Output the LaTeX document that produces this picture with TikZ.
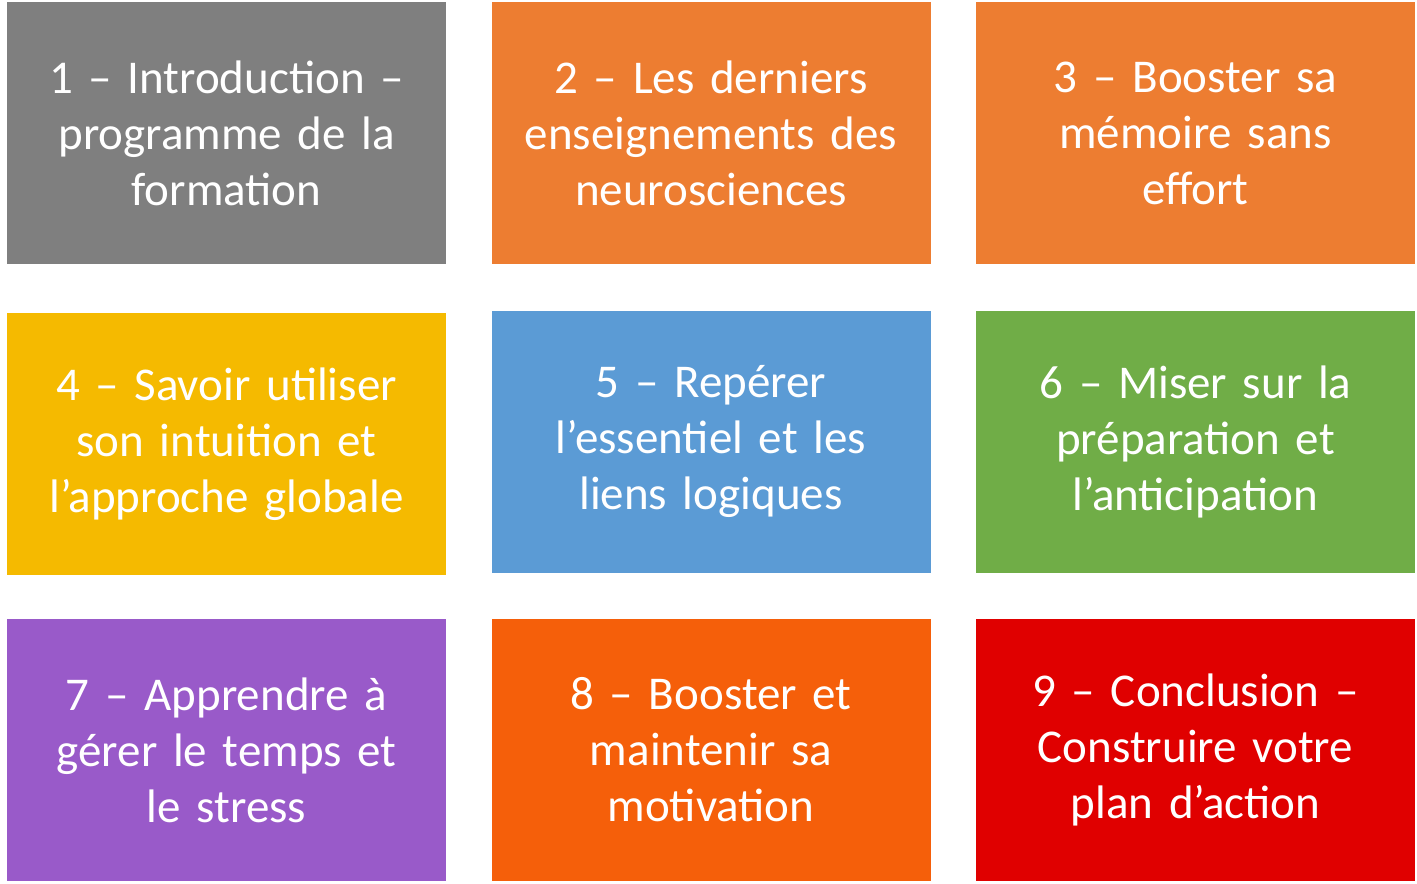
\documentclass[tikz,border=0pt]{standalone}
\usepackage{fontspec}
\setmainfont{Carlito}
\definecolor{cgray}{HTML}{7F7F7F}
\definecolor{corange}{HTML}{ED7D31}
\definecolor{cyellow}{HTML}{F5BA00}
\definecolor{cblue}{HTML}{5B9BD5}
\definecolor{cgreen}{HTML}{70AD47}
\definecolor{cpurple}{HTML}{995AC9}
\definecolor{cdeeporange}{HTML}{F55F0A}
\definecolor{cred}{HTML}{E00000}
\begin{document}
\begin{tikzpicture}[x=0.5pt, y=-0.5pt,
	tile/.style={minimum width=219.5pt, minimum height=131pt, inner sep=0pt, text=white, text width=215pt, align=center, font=\fontsize{23.5}{28}\selectfont}]
			\useasboundingbox (0,0) rectangle (1417,883);
			\node[tile, fill=cgray] (t1) at (226.5,133) {1 – Introduction –\\programme de la\\formation};
			\node[tile, fill=corange] (t2) at (711,133) {2 – Les derniers\\enseignements des\\neurosciences};
			\node[tile, fill=corange] (t3) at (1195.5,133) {3 – Booster sa\\mémoire sans\\effort};
			\node[tile, fill=cyellow] (t4) at (226.5,444) {4 – Savoir utiliser\\son intuition et\\l'approche globale};
			\node[tile, fill=cblue] (t5) at (711,441.5) {5 – Repérer\\l'essentiel et les\\liens logiques};
			\node[tile, fill=cgreen] (t6) at (1195.5,441.5) {6 – Miser sur la\\préparation et\\l'anticipation};
			\node[tile, fill=cpurple] (t7) at (226.5,750) {7 – Apprendre à\\gérer le temps et\\le stress};
			\node[tile, fill=cdeeporange] (t8) at (711,750) {8 – Booster et\\maintenir sa\\motivation};
			\node[tile, fill=cred] (t9) at (1195.5,750) {9 – Conclusion –\\Construire votre\\plan d'action};
			\end{tikzpicture}
\end{document}
